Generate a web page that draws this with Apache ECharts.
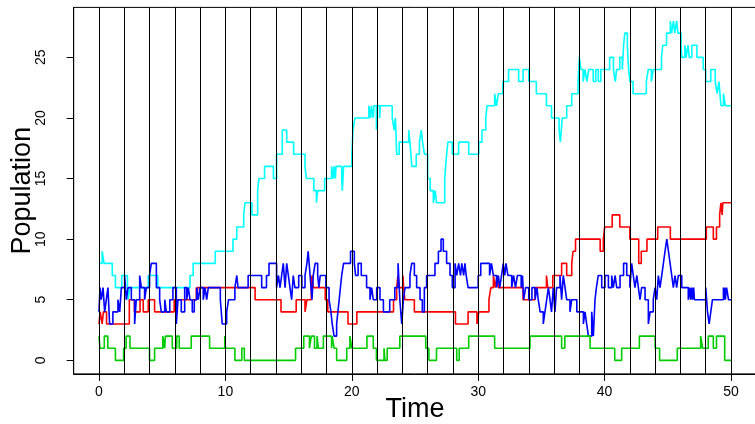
<!DOCTYPE html>
<html>
<head>
<meta charset="utf-8">
<title>Population</title>
<script src="https://cdn.jsdelivr.net/npm/echarts@6/dist/echarts.min.js"></script>
<style>
  html, body { margin: 0; padding: 0; background: #fff; }
  #chart { width: 755px; height: 424px; }
</style>
</head>
<body>
<div id="chart"></div>
<script>
// step data: [time, population] change points
const cyan = [[0,8],[0.25,9],[0.4,8],[1.05,7],[1.3,6],[1.8,7],[2.25,6],[2.3,5],[2.45,6],[3.9,7],[4.65,6],[7.2,7],[7.45,8],[9.2,9],[10.6,10],[10.9,11],[11.45,12],[11.55,13],[12.1,12],[12.55,14],[12.65,15],[13.1,16],[13.8,15],[14.05,17],[14.5,19],[14.85,18],[15.4,17],[16.3,16],[16.4,15],[17.0,14],[17.2,13],[17.3,14],[17.85,15],[18.4,16],[18.55,15],[18.6,16],[18.7,15],[18.75,16],[19.2,15],[19.25,14],[19.35,16],[20.0,17],[20.1,19],[20.25,20],[21.35,21],[21.5,20],[21.55,21],[21.7,20],[21.75,21],[21.95,19],[22.0,21],[22.2,20],[22.25,21],[23.2,20],[23.35,19],[23.45,20],[23.55,17],[23.75,18],[24.5,19],[24.6,18],[24.75,16],[25.1,17],[25.35,18],[25.5,19],[25.6,18],[25.75,17],[26.0,15],[26.2,14],[26.45,13],[26.6,14],[26.7,13],[27.35,15],[27.5,17],[27.6,18],[27.95,17],[28.45,18],[29.25,17],[30.05,18],[30.3,19],[30.6,20],[30.7,21],[31.3,22],[31.45,21],[31.6,22],[31.95,23],[32.4,24],[33.2,23],[33.55,24],[34.0,23],[34.6,22],[35.4,21],[35.8,20],[36.4,19],[36.5,18],[36.65,20],[37.0,21],[37.4,22],[37.9,23],[37.95,24],[38.0,25],[38.12,24],[38.3,23],[38.45,24],[38.6,23],[38.75,24],[39.1,23],[39.3,24],[39.5,23],[39.7,24],[40.4,25],[40.7,24],[40.85,23],[40.95,24],[41.2,25],[41.4,24],[41.5,26],[41.6,27],[41.8,26],[41.9,24],[42.0,23],[42.25,22],[43.3,23],[43.45,24],[43.7,23],[43.85,24],[44.5,25],[44.6,26],[44.9,27],[45.2,28],[45.3,27],[45.45,28],[45.55,27],[45.7,28],[45.8,27],[46.05,26],[46.1,25],[46.35,26],[46.45,25],[46.6,26],[46.7,25],[46.9,26],[47.3,25],[47.8,24],[48.0,23],[48.4,24],[48.75,23],[48.9,22],[49.05,23],[49.2,21],[49.4,22],[49.55,21],[50,21]];

const red = [[0,3],[0.1,4],[0.25,3],[0.35,4],[0.6,3],[2.4,5],[2.8,4],[3.25,5],[3.5,4],[3.9,5],[4.4,4],[5.95,5],[7.7,6],[7.75,5],[7.8,6],[12.35,5],[14.4,4],[15.6,5],[16.3,4],[16.45,5],[16.8,6],[16.85,7],[16.95,6],[17.9,5],[18.1,4],[19.7,3],[20.4,4],[23.3,5],[23.55,6],[23.65,7],[23.75,6],[24.05,7],[24.1,6],[24.2,5],[24.95,4],[28.2,3],[29.2,4],[29.9,3],[30.05,4],[30.85,5],[31.0,6],[31.2,7],[31.35,6],[31.5,7],[31.6,6],[33.55,5],[34.5,6],[35.4,7],[35.5,6],[35.9,7],[36.6,8],[37.0,7],[37.4,8],[37.5,9],[37.7,10],[39.65,9],[39.9,10],[40.0,11],[40.6,12],[41.2,11],[42.0,10],[42.7,8],[42.9,9],[43.35,10],[44.2,11],[45.2,10],[48.05,11],[48.6,10],[48.85,11],[49.1,12],[49.2,13],[49.3,12],[49.35,13],[50,13]];

const blue = [[0,4],[0.08,6],[0.18,5],[0.32,6],[0.45,4],[0.58,5],[0.71,6],[0.84,3],[1.1,4],[1.5,5],[1.64,4],[1.77,6],[2.03,7],[2.16,5],[2.3,6],[2.56,5],[2.82,3],[2.95,5],[3.22,7],[3.35,6],[3.61,5],[3.75,6],[4.0,7],[4.14,8],[4.54,6],[4.8,5],[4.93,4],[5.2,5],[5.33,4],[5.6,5],[5.85,6],[6.12,3],[6.25,5],[6.51,4],[6.78,6],[6.94,5],[7.07,6],[7.2,5],[7.38,4],[7.54,5],[7.73,6],[7.86,5],[8.0,6],[8.25,5],[8.39,6],[8.52,5],[8.65,6],[9.6,5],[9.75,3],[10.1,4],[10.25,5],[10.75,6],[10.9,7],[11.0,6],[11.8,7],[12.87,6],[13.25,7],[13.45,8],[14.05,6],[14.2,7],[14.32,6],[14.45,7],[14.58,8],[14.72,6],[14.85,8],[14.98,7],[15.11,6],[15.24,5],[15.37,7],[15.5,6],[15.8,7],[16.05,6],[16.3,7],[16.45,8],[16.55,9],[16.7,7],[16.85,5],[16.95,7],[17.1,8],[17.3,7],[17.4,6],[17.5,7],[17.95,6],[18.2,5],[18.35,4],[18.45,3],[18.6,2],[18.8,3],[18.9,4],[19.0,5],[19.1,6],[19.2,7],[19.35,8],[19.9,9],[20.2,8],[20.3,7],[20.5,8],[20.75,7],[21.17,6],[21.44,5],[21.57,6],[21.7,5],[21.97,6],[22.23,5],[22.5,4],[23.0,5],[23.4,6],[23.66,8],[23.8,5],[23.95,3],[24.08,5],[24.21,6],[24.6,7],[24.74,8],[24.95,7],[25.13,6],[25.4,5],[25.58,4],[25.74,6],[25.92,7],[26.58,8],[26.85,9],[27.06,10],[27.24,9],[27.5,8],[27.77,7],[27.95,6],[28.17,8],[28.3,7],[28.45,8],[28.6,7],[28.7,8],[28.85,7],[28.95,8],[29.05,7],[29.2,6],[30.0,7],[30.2,8],[30.9,7],[31.05,8],[31.2,7],[31.45,6],[31.6,7],[31.7,6],[31.85,7],[31.98,8],[32.1,7],[32.2,8],[32.35,7],[32.65,6],[32.8,7],[32.95,6],[33.1,7],[33.4,6],[33.5,7],[33.6,5],[33.75,6],[34.0,5],[34.25,6],[34.5,5],[34.65,6],[34.75,5],[34.9,4],[35.15,3],[35.28,4],[35.42,5],[35.55,6],[35.68,5],[35.8,4],[35.94,6],[36.07,4],[36.2,6],[36.47,7],[36.6,5],[36.73,7],[36.87,6],[37.0,5],[37.26,4],[37.4,5],[37.8,4],[38.32,3],[38.45,4],[38.58,3],[38.72,2],[38.98,4],[39.11,2],[39.24,5],[39.35,6],[39.5,7],[39.77,6],[40.03,7],[40.3,6],[40.56,7],[40.69,6],[40.83,7],[40.96,6],[41.22,7],[41.5,8],[41.75,7],[42.0,6],[42.14,8],[42.27,7],[42.4,6],[42.55,7],[42.67,6],[42.8,5],[42.93,6],[43.2,5],[43.46,3],[43.6,4],[43.85,5],[43.99,6],[44.12,5],[44.25,7],[44.38,6],[44.52,7],[44.65,8],[44.78,9],[44.92,10],[45.05,9],[45.18,8],[45.31,7],[45.44,6],[45.57,7],[45.7,6],[45.83,7],[46.1,6],[46.62,5],[46.75,6],[46.8,5],[46.9,6],[46.95,5],[47.05,6],[47.1,5],[48.0,6],[48.14,4],[48.27,3],[48.4,4],[48.53,5],[49.4,6],[49.45,5],[49.5,6],[49.55,5],[49.65,6],[49.8,5],[50,5]];

const green = [[0,2],[0.08,1],[0.42,2],[0.7,1],[1.3,0],[1.95,1],[2.15,2],[2.45,1],[4.0,0],[4.4,1],[5.05,2],[5.2,1],[5.25,2],[5.8,1],[6.15,2],[6.35,1],[7.3,2],[8.75,1],[9.95,2],[10.0,1],[10.75,0],[11.3,1],[11.5,0],[15.55,1],[16.2,2],[16.65,1],[16.8,2],[17.05,1],[17.25,2],[17.35,1],[17.75,2],[18.4,1],[18.45,2],[18.6,1],[18.8,0],[19.6,1],[19.85,2],[20.0,1],[21.2,2],[21.7,1],[21.95,0],[22.55,1],[22.62,0],[22.8,1],[23.8,2],[25.85,1],[26.1,0],[26.7,1],[28.3,0],[28.5,1],[29.25,2],[31.3,1],[34.1,2],[36.6,1],[36.85,2],[38.85,1],[40.8,0],[41.35,1],[42.75,2],[44.0,1],[44.35,0],[45.75,1],[47.6,2],[47.75,1],[48.2,2],[48.6,1],[48.85,2],[49.5,0],[50,0]];

const xTicks = [0, 10, 20, 30, 40, 50];
const yTicks = [0, 5, 10, 15, 20, 25];
const sampleTimes = [0,2,4,6,8,10,12,14,16,18,20,22,24,26,28,30,32,34,36,38,40,42,44,46,48,50];

const font = 'Liberation Sans, Arial, sans-serif';

function stepSeries(name, data, color) {
  return {
    name: name,
    type: 'line',
    step: 'end',
    data: data,
    symbol: 'none',
    silent: true,
    lineStyle: { color: color, width: 1.6 },
    z: 3
  };
}

const chart = echarts.init(document.getElementById('chart'));
chart.setOption({
  animation: false,
  backgroundColor: '#fff',
  grid: {
    left: 73.7, top: 7.4, width: 682.6, height: 366.5,
    containLabel: false, outerBoundsMode: 'none',
    show: true, borderColor: '#000', borderWidth: 1
  },
  xAxis: {
    type: 'value', min: -2, max: 52,
    name: 'Time', nameLocation: 'middle', nameGap: 22, nameMoveOverlap: false,
    nameTextStyle: { fontFamily: font, fontSize: 27, color: '#000' },
    axisLine: { show: true, onZero: false, lineStyle: { color: '#000', width: 1 } },
    axisTick: { show: true, length: 7, lineStyle: { color: '#000' }, customValues: xTicks },
    axisLabel: { fontFamily: font, fontSize: 14, color: '#000', margin: 11, customValues: xTicks },
    splitLine: { show: false }
  },
  yAxis: {
    type: 'value', min: -1.12, max: 29.12,
    name: 'Population', nameLocation: 'middle', nameGap: 38, nameMoveOverlap: false,
    nameTextStyle: { fontFamily: font, fontSize: 27, color: '#000' },
    axisLine: { show: true, onZero: false, lineStyle: { color: '#000', width: 1 } },
    axisTick: { show: true, length: 7, lineStyle: { color: '#000' }, customValues: yTicks },
    axisLabel: { fontFamily: font, fontSize: 14, color: '#000', margin: 26, rotate: 90, customValues: yTicks },
    splitLine: { show: false }
  },
  series: [
    {
      type: 'line', data: [], silent: true, z: 1,
      markLine: {
        silent: true, symbol: 'none', animation: false,
        label: { show: false },
        lineStyle: { color: '#000', width: 1, type: 'solid' },
        data: sampleTimes.map(t => ({ xAxis: t }))
      }
    },
    stepSeries('cyan', cyan, '#00ffff'),
    stepSeries('red', red, '#ff0000'),
    stepSeries('blue', blue, '#0000ff'),
    stepSeries('green', green, '#00cd00')
  ]
});
</script>
</body>
</html>
